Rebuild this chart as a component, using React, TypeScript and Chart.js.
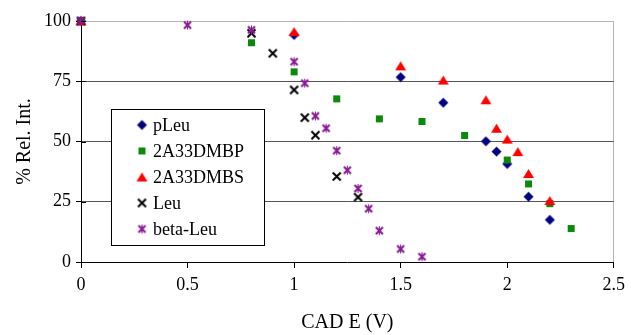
import React, { useEffect, useRef } from 'react';
import { Chart, registerables } from 'chart.js';
Chart.register(...registerables);

const seriesNames = ['pLeu', '2A33DMBP', '2A33DMBS', 'Leu', 'beta-Leu'];
const xAxisTitle = 'CAD E (V)';
const yAxisTitle = '% Rel. Int.';

const pLeuX = [0, 1.0, 1.5, 1.7, 1.9, 1.95, 2.0, 2.1, 2.2];
const pLeuY = [100, 94.2, 76.7, 66.1, 50.1, 45.8, 40.7, 27.1, 17.5];
const dmbpX = [0, 0.8, 1.0, 1.2, 1.4, 1.6, 1.8, 2.0, 2.1, 2.2, 2.3];
const dmbpY = [100, 91.0, 78.9, 67.7, 59.4, 58.3, 52.5, 42.3, 32.4, 24.2, 13.9];
const dmbsX = [0, 1.0, 1.5, 1.7, 1.9, 1.95, 2.0, 2.05, 2.1, 2.2];
const dmbsY = [100, 95.6, 81.4, 75.5, 67.3, 55.5, 51.0, 45.8, 36.7, 25.5];
const leuX = [0, 0.8, 0.9, 1.0, 1.05, 1.1, 1.2, 1.3];
const leuY = [100, 94.9, 86.6, 71.4, 59.9, 52.6, 35.5, 26.9];
const betaX = [0, 0.5, 0.8, 1.0, 1.05, 1.1, 1.15, 1.2, 1.25, 1.3, 1.35, 1.4, 1.5, 1.6];
const betaY = [100, 98.3, 96.3, 83.1, 74.2, 60.6, 55.5, 46.2, 38.1, 30.5, 22.1, 13.0, 5.4, 2.2];

const xMin = 0, xMax = 2.5, xStep = 0.5;
const yMin = 0, yMax = 100, yStep = 25;

const FONT = '"Liberation Serif", "Times New Roman", serif';

function makeMarker(kind: string): HTMLCanvasElement {
  const c = document.createElement('canvas');
  c.width = 13; c.height = 13;
  const g = c.getContext('2d')!;
  const m = 6.5;
  if (kind === 'diamond') {
    g.fillStyle = '#000080';
    g.beginPath(); g.moveTo(m, 1.5); g.lineTo(11.5, m); g.lineTo(m, 11.5); g.lineTo(1.5, m); g.closePath(); g.fill();
  } else if (kind === 'square') {
    g.fillStyle = '#0a8a0a';
    g.fillRect(3, 3, 7, 7);
  } else if (kind === 'triangle') {
    g.fillStyle = '#ff0000';
    g.beginPath(); g.moveTo(m, 2); g.lineTo(12, 11); g.lineTo(1, 11); g.closePath(); g.fill();
  } else if (kind === 'x') {
    g.strokeStyle = '#000'; g.lineWidth = 2;
    g.beginPath(); g.moveTo(2.5, 2.5); g.lineTo(10.5, 10.5); g.moveTo(10.5, 2.5); g.lineTo(2.5, 10.5); g.stroke();
  } else {
    g.strokeStyle = '#8a1a96'; g.lineWidth = 2.2;
    g.beginPath(); g.moveTo(3, 3); g.lineTo(10, 10); g.moveTo(10, 3); g.lineTo(3, 10); g.stroke();
    g.lineWidth = 1;
    g.beginPath(); g.moveTo(m, 2); g.lineTo(m, 11); g.stroke();
  }
  return c;
}

const legendPlugin = {
  id: 'boxLegend',
  afterDatasetsDraw(chart: any) {
    const { ctx, chartArea } = chart;
    const x0 = Math.round(chartArea.left + 30), y0 = Math.round(chartArea.top + 88);
    const w = 153, h = 136;
    ctx.save();
    ctx.fillStyle = '#fff';
    ctx.fillRect(x0, y0, w, h);
    ctx.strokeStyle = '#000'; ctx.lineWidth = 1;
    ctx.strokeRect(x0 + 0.5, y0 + 0.5, w, h);
    ctx.font = '18px ' + FONT;
    ctx.textBaseline = 'middle';
    ctx.fillStyle = '#000';
    chart.data.datasets.forEach((ds: any, i: number) => {
      const cy = y0 + 16 + i * 26;
      ctx.drawImage(ds.pointStyle, x0 + 31 - 6.5, cy - 6.5);
      ctx.fillText(ds.label, x0 + 42, cy + 1);
    });
    ctx.restore();
  },
};

const innerTicks = {
  id: 'innerTicks',
  afterDraw(chart: any) {
    const { ctx } = chart;
    const ys = chart.scales.y;
    const xs = chart.scales.x;
    ctx.save();
    ctx.strokeStyle = '#000'; ctx.lineWidth = 1;
    ys.ticks.forEach((t: any) => {
      const py = Math.round(ys.getPixelForValue(t.value)) + 0.5;
      ctx.beginPath(); ctx.moveTo(xs.left, py); ctx.lineTo(xs.left + 5, py); ctx.stroke();
    });
    ctx.restore();
  },
};

export default function App() {
  const ref = useRef<HTMLCanvasElement>(null);
  useEffect(() => {
    const markers = ['diamond', 'square', 'triangle', 'x', 'star'].map(makeMarker);
    const xs = [pLeuX, dmbpX, dmbsX, leuX, betaX];
    const ys = [pLeuY, dmbpY, dmbsY, leuY, betaY];
    const datasets = seriesNames.map((name, i) => ({
      label: name,
      data: xs[i].map((x, j) => ({ x, y: ys[i][j] })),
      pointStyle: markers[i],
      pointRadius: 6,
      showLine: false,
      clip: false,
      order: seriesNames.length - i,
    }));
    const chart = new Chart(ref.current!, {
      type: 'scatter',
      data: { datasets },
      plugins: [legendPlugin, innerTicks],
      options: {
        animation: false,
        responsive: false,
        layout: { padding: { top: 21, right: 15, left: 0, bottom: 0 } },
        plugins: { legend: { display: false }, tooltip: { enabled: false } },
        scales: {
          x: {
            type: 'linear', min: xMin, max: xMax,
            afterFit: (s: any) => { s.height = 73; },
            ticks: { stepSize: xStep, color: '#000', font: { family: FONT, size: 18 }, padding: 6, callback: (v: any) => String(Number(v)) },
            grid: {
              color: (c: any) => (c.tick && c.tick.value === xMax ? '#b4b4b4' : 'rgba(0,0,0,0)'),
              tickColor: '#000', tickLength: 6, drawTicks: true,
            },
            border: { color: '#000', width: 1 },
            title: { display: true, text: xAxisTitle, color: '#000', font: { family: FONT, size: 20 }, padding: { top: 0, bottom: 0 } },
          },
          y: {
            type: 'linear', min: yMin, max: yMax,
            afterFit: (s: any) => { s.width = 81; },
            ticks: { stepSize: yStep, color: '#000', font: { family: FONT, size: 18 }, padding: 5, callback: (v: any) => String(Number(v)) },
            grid: {
              color: (c: any) => {
                const v = c.tick && c.tick.value;
                if (v === yMax) return '#b4b4b4';
                if (v === yMin) return 'rgba(0,0,0,0)';
                return '#555';
              },
              tickColor: '#000', tickLength: 5,
            },
            border: { color: '#000', width: 1 },
            title: { display: true, text: yAxisTitle, color: '#000', font: { family: FONT, size: 20 }, padding: { top: 13, bottom: 0 } },
          },
        },
      } as any,
    });
    return () => chart.destroy();
  }, []);
  return (
    <div style={{ position: 'absolute', left: 0, top: 0, width: 631, height: 335, background: '#fff' }}>
      <canvas ref={ref} width={631} height={335} />
    </div>
  );
}
